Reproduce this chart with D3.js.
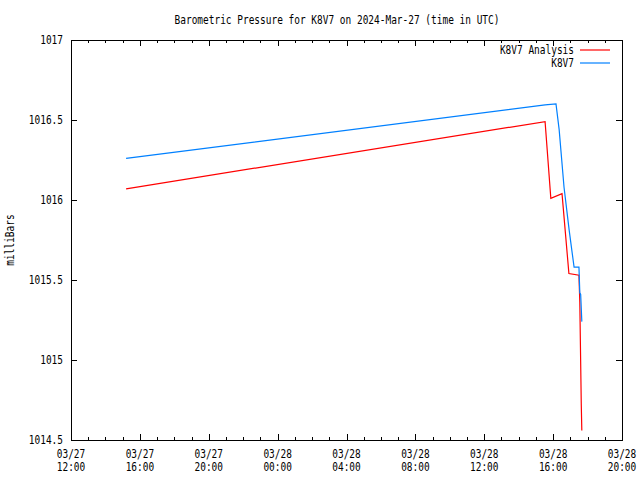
<!DOCTYPE html>
<html><head><meta charset="utf-8">
<script src="https://cdn.jsdelivr.net/npm/d3@7"></script>
<style>body{margin:0;background:#fff}svg{display:block}</style>
</head><body>
<svg id="c" width="640" height="480"></svg>
<script>
const titleText = "Barometric Pressure for K8V7 on 2024-Mar-27 (time in UTC)";
const yLabel = "milliBars";
const seriesNames = ["K8V7 Analysis", "K8V7"];
const seriesColors = ["#ff0000", "#0080ff"];
const yTicks = [1014.5, 1015, 1015.5, 1016, 1016.5, 1017];
const analysisTimes = ["2024-03-27T15:12Z","2024-03-28T15:32Z","2024-03-28T15:52Z","2024-03-28T16:31Z","2024-03-28T16:55Z","2024-03-28T17:30Z","2024-03-28T17:33Z","2024-03-28T17:38Z","2024-03-28T17:40Z"];
const analysisValues = [1016.07,1016.49,1016.01,1016.04,1015.54,1015.53,1015.36,1014.73,1014.56];
const obsTimes = ["2024-03-27T15:12Z","2024-03-28T15:32Z","2024-03-28T16:10Z","2024-03-28T16:21Z","2024-03-28T16:38Z","2024-03-28T16:56Z","2024-03-28T17:13Z","2024-03-28T17:30Z","2024-03-28T17:33Z","2024-03-28T17:36Z","2024-03-28T17:40Z"];
const obsValues = [1016.26,1016.595,1016.60,1016.44,1016.08,1015.81,1015.58,1015.58,1015.42,1015.41,1015.24];
const xStart = "2024-03-27T12:00Z", xEnd = "2024-03-28T20:00Z";

const svg = d3.select("#c");
const L = 71, R = 622, T = 40, B = 440;
const CW = 5.7;
const font = "'DejaVu Sans Mono', monospace";
const x = d3.scaleUtc().domain([new Date(xStart), new Date(xEnd)]).range([L, R]);
const y = d3.scaleLinear().domain([1014.5, 1017]).range([B, T]);

function txt(s, px, py, anchor, g) {
  return (g || svg).append("text").attr("x", px).attr("y", py)
    .attr("font-family", font).attr("font-size", 11.5).attr("fill", "#000")
    .attr("text-anchor", anchor || "start")
    .attr("textLength", s.length * CW).attr("lengthAdjust", "spacingAndGlyphs")
    .text(s);
}

// frame
svg.append("rect").attr("x", L).attr("y", T).attr("width", R - L).attr("height", B - T)
  .attr("fill", "none").attr("stroke", "#000").attr("stroke-width", 1).attr("shape-rendering", "crispEdges");

const majorT = x.ticks(d3.utcHour.every(4));
const minorT = x.ticks(d3.utcHour.every(1));
function styleAxis(g) {
  g.select(".domain").remove();
  g.selectAll("text").remove();
  g.selectAll("line").attr("stroke", "#000").attr("shape-rendering", "crispEdges");
}
// x minor ticks bottom/top
svg.append("g").attr("transform", `translate(0,${B})`).call(d3.axisBottom(x).tickValues(minorT).tickSize(-3)).call(styleAxis);
svg.append("g").attr("transform", `translate(0,${T})`).call(d3.axisTop(x).tickValues(minorT).tickSize(-3)).call(styleAxis);
svg.append("g").attr("transform", `translate(0,${B})`).call(d3.axisBottom(x).tickValues(majorT).tickSize(-6)).call(styleAxis);
svg.append("g").attr("transform", `translate(0,${T})`).call(d3.axisTop(x).tickValues(majorT).tickSize(-6)).call(styleAxis);
svg.append("g").attr("transform", `translate(${L},0)`).call(d3.axisLeft(y).tickValues(yTicks).tickSize(-6)).call(styleAxis);
svg.append("g").attr("transform", `translate(${R},0)`).call(d3.axisRight(y).tickValues(yTicks).tickSize(-6)).call(styleAxis);

// tick labels
const fmtD = d3.utcFormat("%m/%d"), fmtH = d3.utcFormat("%H:%M");
majorT.forEach(d => {
  txt(fmtD(d), x(d), 458, "middle");
  txt(fmtH(d), x(d), 471, "middle");
});
yTicks.forEach(v => {
  txt(d3.format("")(v), 63, y(v) + 4, "end");
});

// title & y label
txt(titleText, 337, 24, "middle");
const yl = svg.append("g").attr("transform", "translate(14,240) rotate(-90)");
txt(yLabel, 0, 0, "middle", yl);

// series
const line = d3.line().x(d => x(d[0])).y(d => y(d[1]));
const data = [
  analysisTimes.map((t, i) => [new Date(t), analysisValues[i]]),
  obsTimes.map((t, i) => [new Date(t), obsValues[i]])
];
data.forEach((d, i) => {
  svg.append("path").datum(d).attr("d", line).attr("fill", "none")
    .attr("stroke", seriesColors[i]).attr("stroke-width", 1.2);
});

// legend
seriesNames.forEach((n, i) => {
  const ly = 50 + i * 13;
  txt(n, 574, ly + 4, "end");
  svg.append("line").attr("x1", 580).attr("x2", 610).attr("y1", ly).attr("y2", ly)
    .attr("stroke", seriesColors[i]).attr("stroke-width", 1.2);
});
</script>
</body></html>
